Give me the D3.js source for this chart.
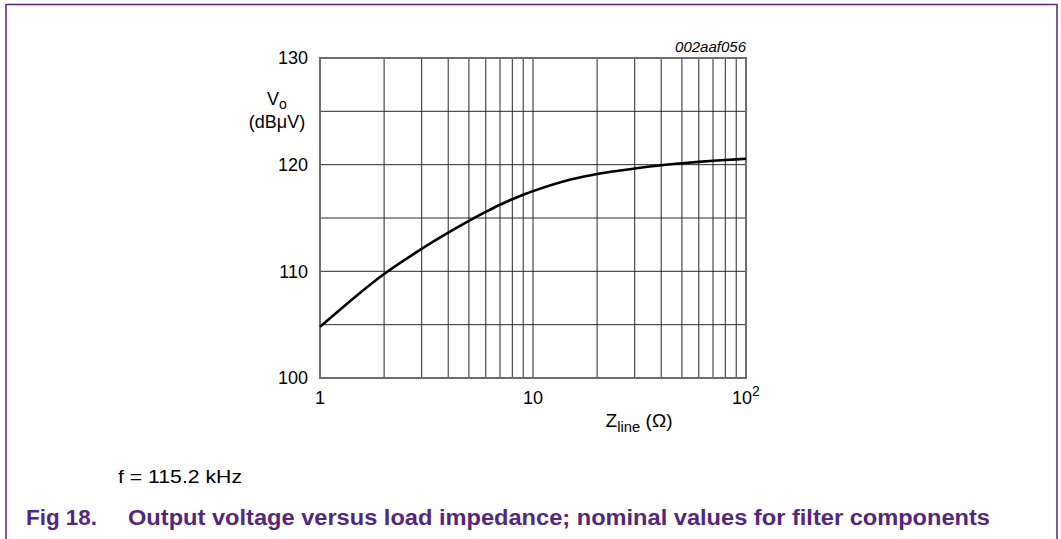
<!DOCTYPE html>
<html>
<head>
<meta charset="utf-8">
<script src="https://cdn.jsdelivr.net/npm/d3@7"></script>
<style>
  html, body { margin: 0; padding: 0; background: #fff; }
  svg { display: block; font-family: "Liberation Sans", Arial, sans-serif; }
</style>
</head>
<body>
<svg id="chart" width="1061" height="539"></svg>
<script>
// ---- data ----
const zLine = [1, 1.5, 2, 3, 4, 5, 6, 7, 8, 9, 10, 15, 20, 30, 40, 50, 60, 70, 80, 90, 100];
const vOut  = [104.8, 107.79, 109.75, 112.1, 113.62, 114.73, 115.57, 116.24, 116.76, 117.18, 117.52, 118.6, 119.13, 119.64, 119.94, 120.13, 120.26, 120.36, 120.44, 120.5, 120.56];
const xGridTicks = [1, 2, 3, 4, 5, 6, 7, 8, 9, 10, 20, 30, 40, 50, 60, 70, 80, 90, 100];
const yGridTicks = [100, 105, 110, 115, 120, 125, 130];
const yLabelTicks = [100, 110, 120, 130];
const xLabelTicks = [1, 10, 100];

const purple = "#53267f";
const svg = d3.select("#chart");

// frame
svg.append("path")
  .attr("d", "M6,539 L6,4.5 L1057,4.5 L1057,539")
  .attr("fill", "none").attr("stroke", purple).attr("stroke-width", 1.5);

const x = d3.scaleLog().domain([1, 100]).range([320, 746]);
const y = d3.scaleLinear().domain([100, 130]).range([378, 58]);

// grid
const g = svg.append("g");
g.selectAll("line.vg").data(xGridTicks).enter().append("line")
  .attr("x1", d => x(d)).attr("x2", d => x(d))
  .attr("y1", y(100)).attr("y2", y(130))
  .attr("stroke", "#4a4a4a").attr("stroke-width", 1.2);
g.selectAll("line.hg").data(yGridTicks).enter().append("line")
  .attr("x1", x(1)).attr("x2", x(100))
  .attr("y1", d => y(d)).attr("y2", d => y(d))
  .attr("stroke", "#2a2a2a").attr("stroke-width", 1);
// plot box
g.append("rect")
  .attr("x", x(1)).attr("y", y(130))
  .attr("width", x(100) - x(1)).attr("height", y(100) - y(130))
  .attr("fill", "none").attr("stroke", "#6e6e6e").attr("stroke-width", 2);

// curve
const line = d3.line().x((d, i) => x(zLine[i])).y(d => y(d)).curve(d3.curveCatmullRom.alpha(0.5));
svg.append("path").datum(vOut).attr("d", line)
  .attr("fill", "none").attr("stroke", "#000").attr("stroke-width", 2.6)
  .attr("stroke-linejoin", "round");

// y labels
svg.selectAll("text.yl").data(yLabelTicks).enter().append("text")
  .attr("x", 308).attr("y", d => y(d)).attr("dy", "0.36em")
  .attr("text-anchor", "end").attr("font-size", 18).attr("fill", "#000")
  .text(d => d);

// x labels
svg.selectAll("text.xl").data(xLabelTicks).enter().append("text")
  .attr("x", d => x(d)).attr("y", 404)
  .attr("text-anchor", "middle").attr("font-size", 18).attr("fill", "#000")
  .each(function(d) {
    const t = d3.select(this);
    if (d === 100) {
      t.append("tspan").text("10");
      t.append("tspan").attr("dy", -8).attr("font-size", 14).text("2");
    } else {
      t.text(d);
    }
  });

// y axis title
const vt = svg.append("text").attr("x", 277).attr("y", 105)
  .attr("text-anchor", "middle").attr("font-size", 18);
vt.append("tspan").text("V");
vt.append("tspan").attr("dy", 4).attr("font-size", 14).text("o");
svg.append("text").attr("x", 277).attr("y", 128)
  .attr("text-anchor", "middle").attr("font-size", 18).text("(dBμV)");

// x axis title
const zt = svg.append("text").attr("x", 639).attr("y", 427)
  .attr("text-anchor", "middle").attr("font-size", 18)
  .attr("textLength", 67).attr("lengthAdjust", "spacingAndGlyphs");
zt.append("tspan").text("Z");
zt.append("tspan").attr("dy", 5).attr("font-size", 14).text("line");
zt.append("tspan").attr("dy", -5).text(" (Ω)");

// code id
svg.append("text").attr("x", 746).attr("y", 52)
  .attr("text-anchor", "end").attr("font-size", 15).attr("font-style", "italic")
  .text("002aaf056");

// condition note
svg.append("text").attr("x", 118).attr("y", 483)
  .attr("font-size", 19).attr("textLength", 124).attr("lengthAdjust", "spacingAndGlyphs")
  .text("f = 115.2 kHz");

// caption
svg.append("text").attr("x", 26).attr("y", 525)
  .attr("font-size", 22).attr("font-weight", "bold").attr("fill", purple)
  .attr("textLength", 71).attr("lengthAdjust", "spacingAndGlyphs")
  .text("Fig 18.");
svg.append("text").attr("x", 128).attr("y", 525)
  .attr("font-size", 22).attr("font-weight", "bold").attr("fill", purple)
  .attr("textLength", 862).attr("lengthAdjust", "spacingAndGlyphs")
  .text("Output voltage versus load impedance; nominal values for filter components");
</script>
</body>
</html>
